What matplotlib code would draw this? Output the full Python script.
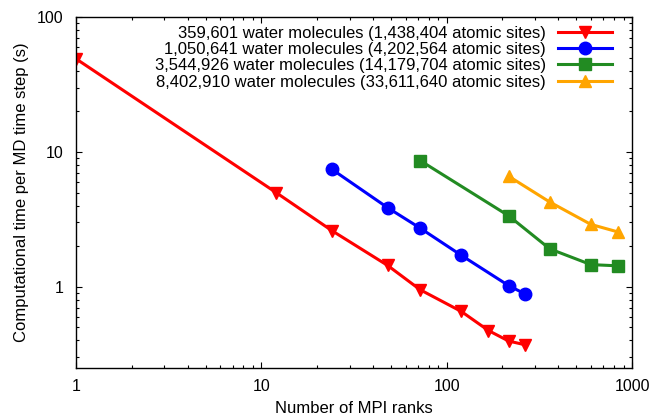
import matplotlib
matplotlib.use("Agg")
import matplotlib.pyplot as plt
from matplotlib.ticker import LogLocator, FixedLocator, FixedFormatter, NullFormatter

plt.rcParams["font.family"] = ["Liberation Sans", "DejaVu Sans"]

# data (MPI ranks vs seconds per MD step)
ranks_359k = [1, 12, 24, 48, 72, 120, 168, 216, 264]
time_359k = [49.0, 5.0, 2.61, 1.44, 0.95, 0.656, 0.474, 0.396, 0.372]

ranks_1m = [24, 48, 72, 120, 216, 264]
time_1m = [7.44, 3.86, 2.72, 1.71, 1.02, 0.887]

ranks_3m = [72, 216, 360, 600, 840]
time_3m = [8.62, 3.36, 1.91, 1.46, 1.43]

ranks_8m = [216, 360, 600, 840]
time_8m = [6.6, 4.25, 2.9, 2.55]

labels = [
    "359,601 water molecules (1,438,404 atomic sites)",
    "1,050,641 water molecules (4,202,564 atomic sites)",
    "3,544,926 water molecules (14,179,704 atomic sites)",
    "8,402,910 water molecules (33,611,640 atomic sites)",
]

fig = plt.figure(figsize=(6.53, 4.20), dpi=100)
ax = fig.add_axes([76 / 653, 1 - 368 / 420, 556 / 653, 351 / 420])

ax.plot(ranks_359k, time_359k, color="#ff0000", lw=2.2, marker="v", ms=9, label=labels[0])
ax.plot(ranks_1m, time_1m, color="#0000ff", lw=2.2, marker="o", ms=9, label=labels[1])
ax.plot(ranks_3m, time_3m, color="#228b22", lw=2.2, marker="s", ms=8.5, label=labels[2])
ax.plot(ranks_8m, time_8m, color="#ffa500", lw=2.2, marker="^", ms=9, label=labels[3])

ax.set_xscale("log")
ax.set_yscale("log")
ax.set_xlim(1, 1000)
ax.set_ylim(0.25, 100)

ax.xaxis.set_major_locator(FixedLocator([1, 10, 100, 1000]))
ax.xaxis.set_major_formatter(FixedFormatter(["1", "10", "100", "1000"]))
ax.yaxis.set_major_locator(FixedLocator([1, 10, 100]))
ax.yaxis.set_major_formatter(FixedFormatter(["1", "10", "100"]))
ax.xaxis.set_minor_locator(LogLocator(base=10, subs=range(2, 10)))
ax.yaxis.set_minor_locator(LogLocator(base=10, subs=range(2, 10)))
ax.xaxis.set_minor_formatter(NullFormatter())
ax.yaxis.set_minor_formatter(NullFormatter())

ax.tick_params(which="both", direction="in", top=True, right=True, labelsize=11.5)
ax.tick_params(which="major", length=4.5, width=0.8)
ax.tick_params(which="minor", length=2.5, width=0.8)
ax.tick_params(axis="x", which="major", pad=8)
ax.tick_params(axis="y", which="major", pad=9)
for sp in ax.spines.values():
    sp.set_linewidth(1.0)

ax.set_xlabel("Number of MPI ranks", fontsize=12, labelpad=5)
ax.set_ylabel("Computational time per MD time step (s)", fontsize=12, labelpad=6)

ax.legend(
    loc="upper right",
    bbox_to_anchor=(612 / 653, 1 - 26 / 420),
    bbox_transform=fig.transFigure,
    frameon=False,
    markerfirst=False,
    borderpad=0,
    borderaxespad=0,
    handlelength=3.25,
    handletextpad=0.72,
    labelspacing=0.07,
    fontsize=12,
)

fig.savefig("out.png", dpi=100)
